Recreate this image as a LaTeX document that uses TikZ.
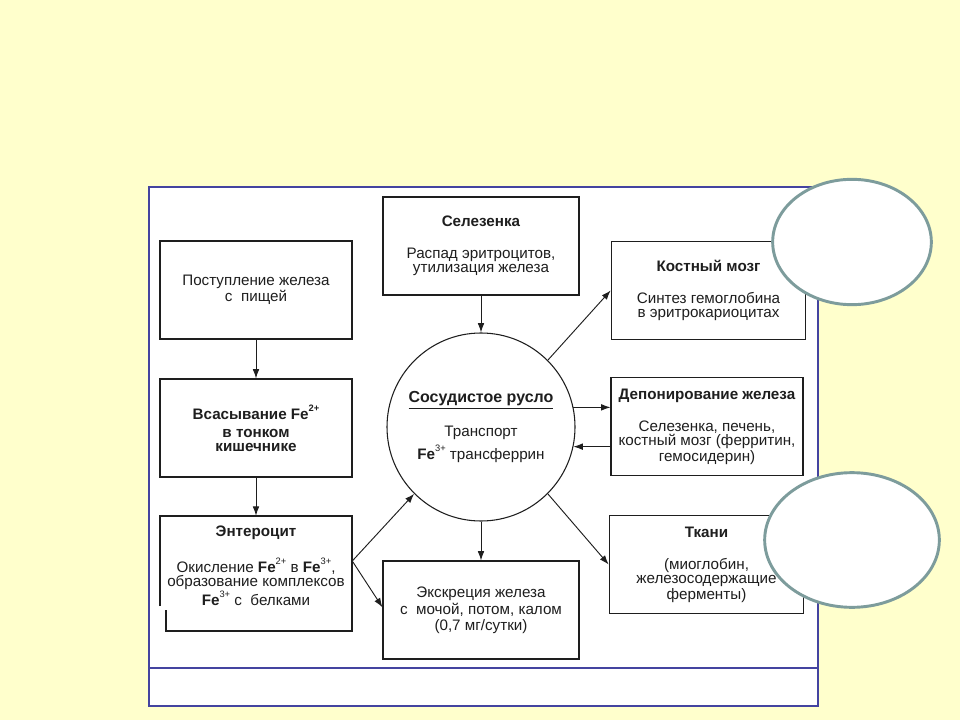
\documentclass[tikz,border=0pt]{standalone}
\usepackage{fontspec}
\setmainfont{Liberation Sans}
\usetikzlibrary{arrows.meta,shapes.geometric}
\definecolor{bgyellow}{HTML}{FFFFCC}
\definecolor{framecol}{HTML}{4444A0}
\definecolor{ellcol}{HTML}{7D9C9C}
\definecolor{inkcol}{HTML}{1E1E1E}
\newcommand{\bodyfnt}{\fontsize{11.4}{10.6}\selectfont}
\newcommand{\FeS}[1]{\textbf{Fe}\raisebox{0.52em}{\fontsize{7}{7}\selectfont #1}}
\begin{document}
\begin{tikzpicture}[x=0.75pt,y=-0.75pt,
  box/.style={draw=inkcol, line width=0.8pt, fill=white, minimum width=144pt, minimum height=73.5pt, inner sep=0pt, align=center, font=\bodyfnt, text=inkcol},
  txt/.style={align=center, font=\bodyfnt, text=inkcol, inner sep=0pt},
  arr/.style={draw=inkcol, line width=0.7pt, -{Latex[length=7pt,width=5pt]}},
  frameline/.style={draw=framecol, line width=1.5pt},
  ell/.style={ellipse, draw=ellcol, line width=2.2pt, fill=white}]
\useasboundingbox (0,0) rectangle (960,720);
\fill[bgyellow] (0,0) rectangle (960,720);
% frame
\fill[white] (149,187) rectangle (818,706);
\draw[frameline] (149,187) rectangle (818,706);
\draw[frameline] (149,668) -- (818,668);
% boxes
\node[box] (post) at (256,290) {Поступление железа\\с\ \ пищей};
\node[box] (vsas) at (256,428) {\textbf{Всасывание \FeS{2+}}\\[3pt]\textbf{в тонком}\\\textbf{кишечнике}};
\node[minimum width=144pt, minimum height=67.5pt, inner sep=0pt] (ent) at (256,561) {};
\draw[inkcol, line width=0.8pt] (160,606) -- (160,516) -- (352,516) -- (352,631) -- (166,631) -- (166,610);
\node[txt] (enttxt) at (256,566) {\textbf{Энтероцит}\\[13pt]Окисление \FeS{2+} в \FeS{3+},\\образование комплексов\\\FeS{3+} с\ \ белками};
\node[box, minimum width=147pt] (sel) at (481,246) {\textbf{Селезенка}\\[13pt]Распад эритроцитов,\\утилизация железа};
\node[box, minimum width=146pt] (kost) at (708.5,290.5) {\textbf{Костный мозг}\\[13pt]Синтез гемоглобина\\в эритрокариоцитах};
\node[box] (dep) at (707,426.5) {\textbf{Депонирование железа}\\[13.5pt]Селезенка, печень,\\костный мозг (ферритин,\\гемосидерин)};
\node[box, minimum width=146pt] (tkan) at (706.5,564.5) {\textbf{Ткани}\\[13.5pt](миоглобин,\\железосодержащие\\ферменты)};
\node[box, minimum width=147pt] (exc) at (481,610) {Экскреция железа\\[1pt]с\ \ мочой, потом, калом\\[1pt](0,7 мг/сутки)};
% circle
\node[circle, draw=inkcol, line width=0.8pt, fill=white, minimum size=141pt, inner sep=0pt, align=center, font=\bodyfnt, text=inkcol] (circ) at (481,427)
  {{\fontsize{12}{12}\selectfont\underline{\textbf{Сосудистое русло}}}\\[12pt]Транспорт\\[3pt]\FeS{3+} трансферрин};
% connectors
\draw[arr] (post.south) -- (vsas.north);
\draw[arr] (vsas.south) -- (ent.north);
\draw[arr] (sel.south) -- (circ.north);
\draw[arr] (ent.east) -- (circ.225);
\draw[arr] (ent.east) -- ([yshift=2pt]exc.west);
\draw[arr] (circ.45) -- (kost.west);
\draw[arr] (circ.12) -- (circ.12 -| dep.west);
\draw[arr] (circ.-12 -| dep.west) -- (circ.-12);
\draw[arr] (circ.south) -- (exc.north);
\draw[arr] (circ.-45) -- (tkan.west);
% ellipses
\node[ell, minimum width=119pt, minimum height=94pt] (ellA) at (852,242) {};
\node[ell, minimum width=131pt, minimum height=101pt] (ellB) at (852,540) {};
\end{tikzpicture}
\end{document}
